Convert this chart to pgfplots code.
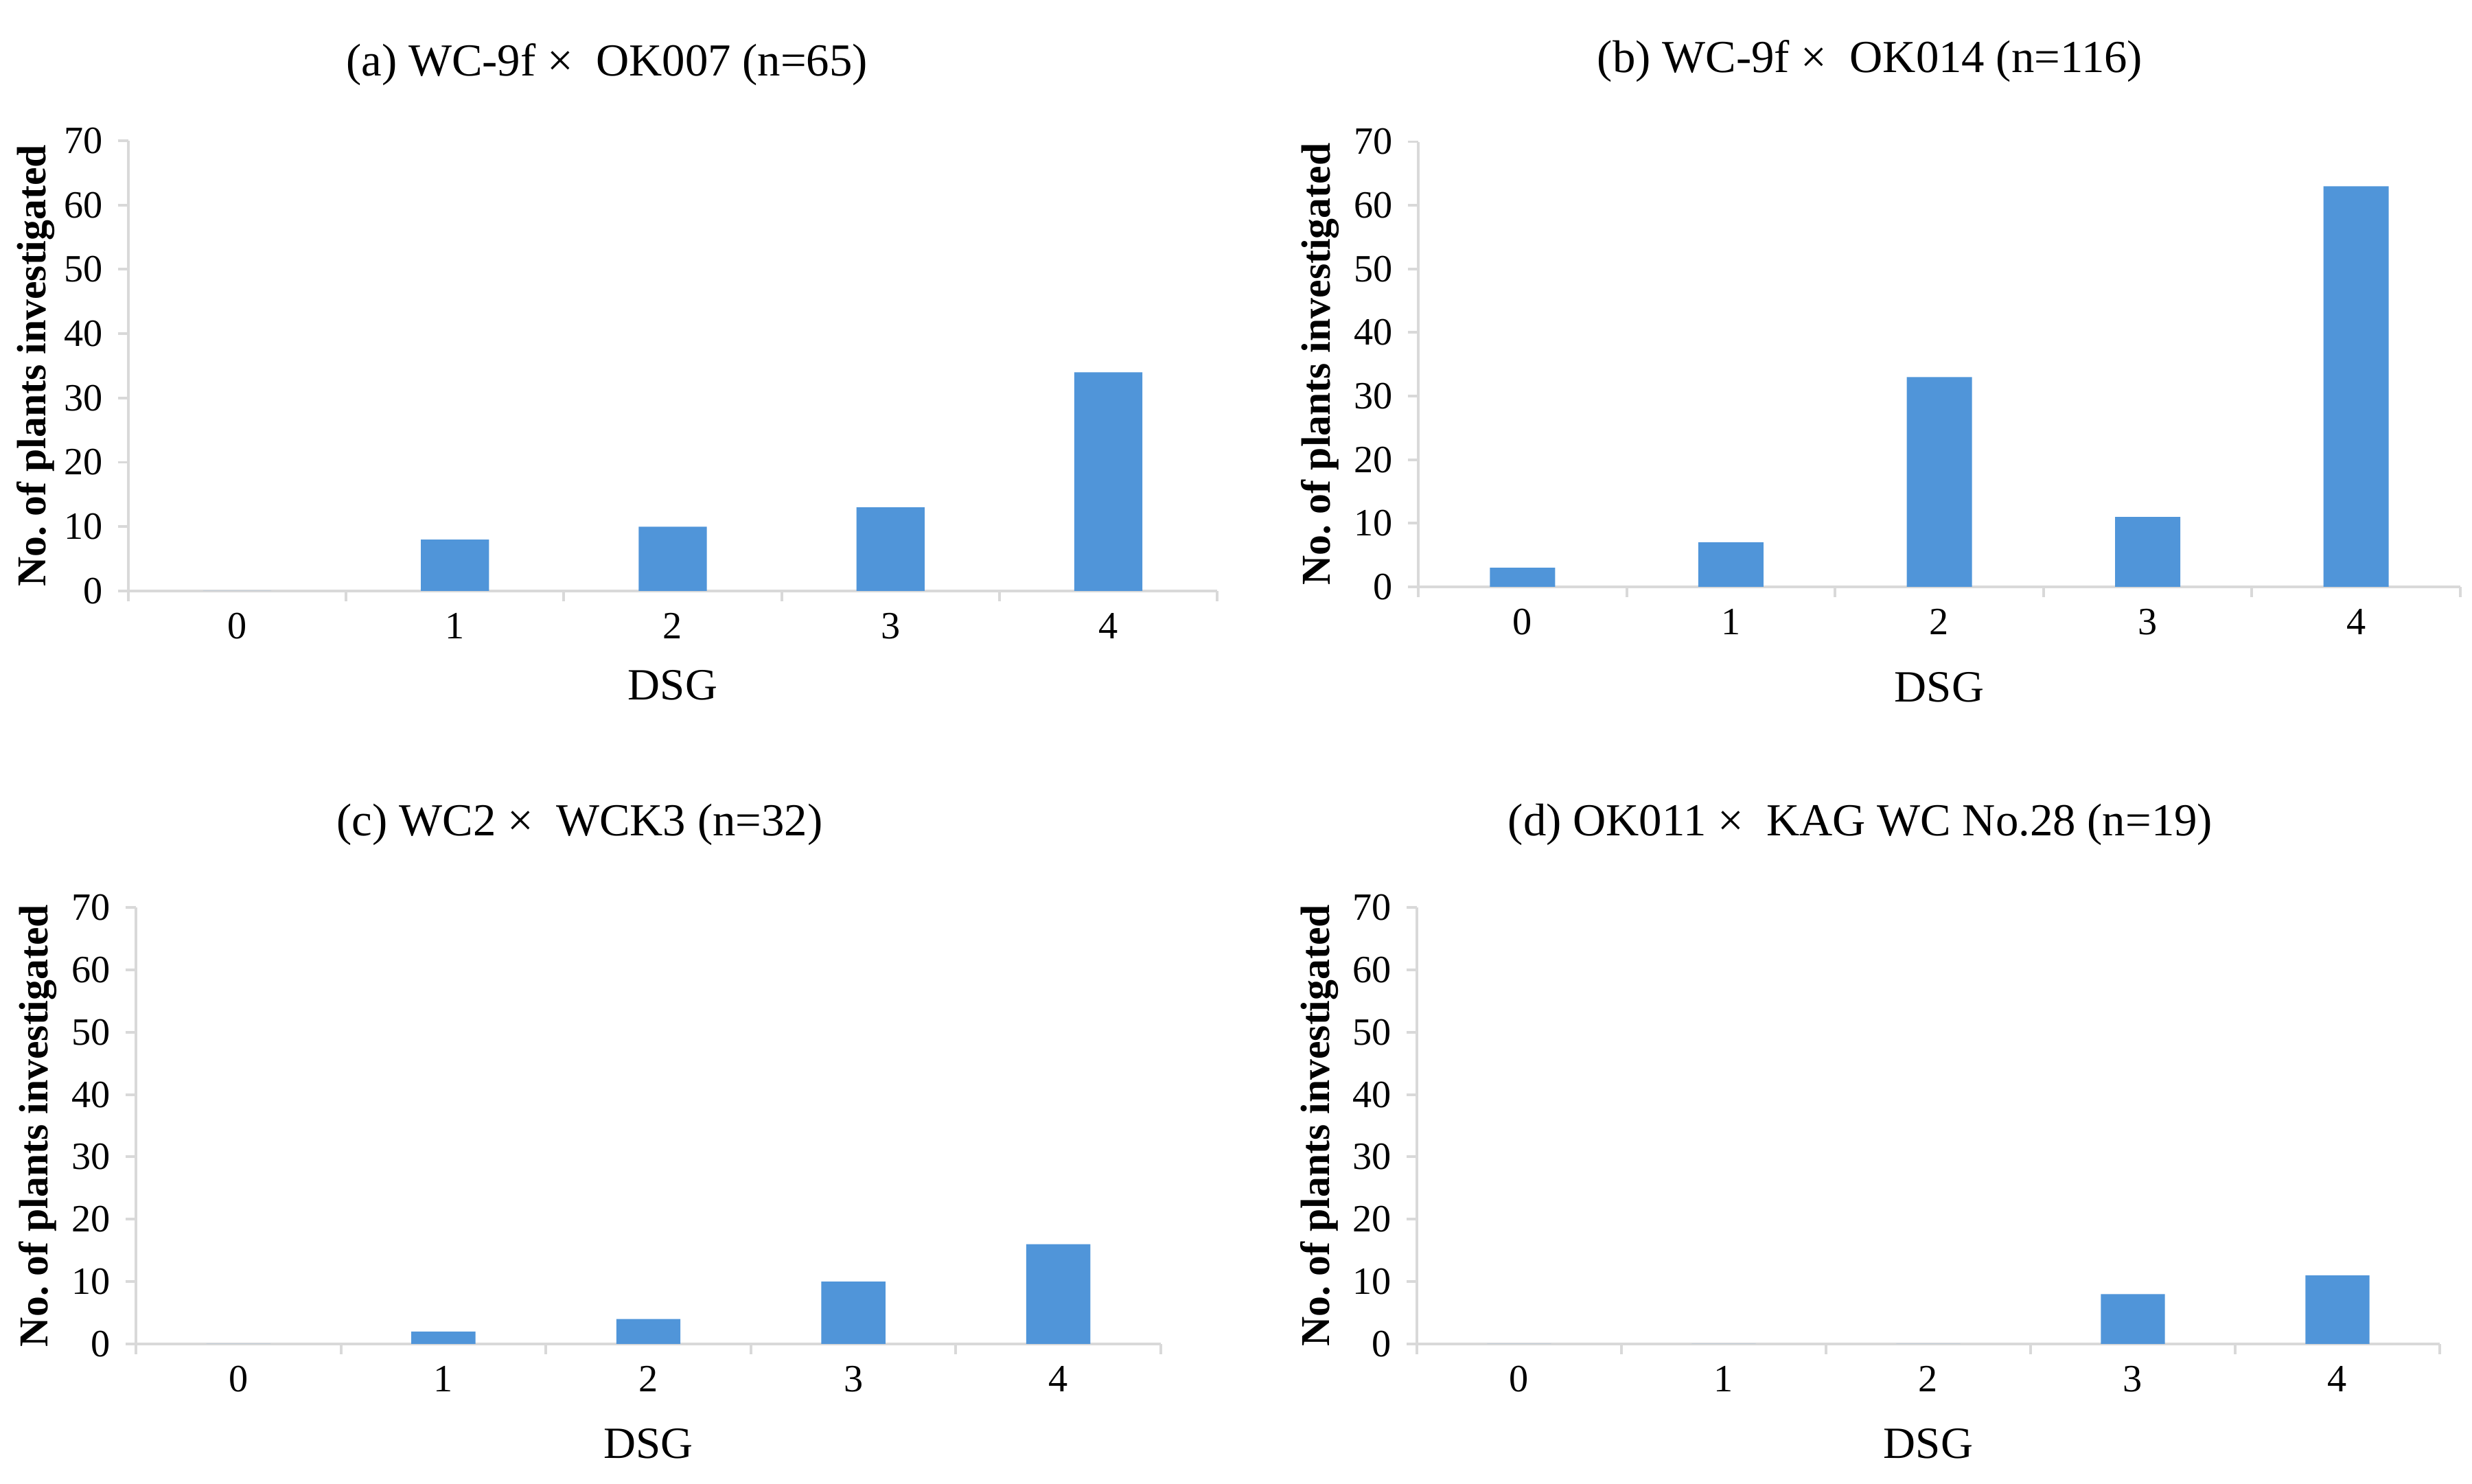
\documentclass[border=0pt]{standalone}
\usepackage{fontspec}
\setmainfont{Liberation Serif}
\usepackage{pgfplots}
\pgfplotsset{compat=1.18}
\definecolor{barblue}{RGB}{80,149,217}
\definecolor{axgray}{RGB}{217,217,217}
\pgfplotsset{
  dsg/.style={
    scale only axis,
    anchor=south west,
    ybar, bar width=0.313, bar shift=0pt,
    xmin=-0.5, xmax=4.5, ymin=0, ymax=70,
    axis lines=left,
    axis line style={-, draw=axgray, line width=1.1pt},
    tick style={draw=axgray, line width=1.1pt},
    tick align=outside,
    major tick length=0.15cm,
    ytick={0,10,...,70},
    xtick={-0.5,0.5,1.5,2.5,3.5,4.5},
    xticklabels={,,,,,},
    extra x ticks={0,1,2,3,4},
    extra x tick labels={0,1,2,3,4},
    extra x tick style={tick style={draw=none}},
    /pgf/number format/assume math mode=true,
    tick label style={font=\fontsize{16}{17}\selectfont},
    yticklabel style={xshift=-0.1cm},
    xticklabel style={yshift=-0.05cm},
    title style={font=\fontsize{19}{21}\selectfont, anchor=center, yshift=-0.23cm},
    xlabel={DSG},
    xlabel style={font=\fontsize{18.5}{20}\selectfont, anchor=center},
    ylabel={No.\ of plants investigated},
    ylabel style={font=\fontsize{17}{19}\selectfont\bfseries, anchor=center},
  }
}
\begin{document}
\begin{tikzpicture}
\useasboundingbox (0,0) rectangle (36.01,21.62);
% (a)
\begin{axis}[dsg, at={(1.87cm,13.01cm)}, width=15.86cm, height=6.56cm,
  title={(a) WC-9f × \ OK007 (n=65)},
  title style={at={(axis description cs:0.4395,1.172)}},
  xlabel style={at={(axis description cs:0.5,-0.209)}},
  ylabel style={at={(axis description cs:-0.085,0.5)}}]
\addplot[fill=barblue, draw=none] coordinates {(0,0) (1,8) (2,10) (3,13) (4,34)};
\end{axis}
% (b)
\begin{axis}[dsg, at={(20.66cm,13.07cm)}, width=15.18cm, height=6.485cm,
  title={(b) WC-9f × \ OK014 (n=116)},
  title style={at={(axis description cs:0.4335,1.184)}},
  xlabel style={at={(axis description cs:0.5,-0.225)}},
  ylabel style={at={(axis description cs:-0.094,0.5)}}]
\addplot[fill=barblue, draw=none] coordinates {(0,3) (1,7) (2,33) (3,11) (4,63)};
\end{axis}
% (c)
\begin{axis}[dsg, at={(1.98cm,2.04cm)}, width=14.93cm, height=6.36cm,
  title={(c) WC2 × \ WCK3 (n=32)},
  title style={at={(axis description cs:0.433,1.193)}},
  xlabel style={at={(axis description cs:0.5,-0.228)}},
  ylabel style={at={(axis description cs:-0.096,0.5)}}]
\addplot[fill=barblue, draw=none] coordinates {(0,0) (1,2) (2,4) (3,10) (4,16)};
\end{axis}
% (d)
\begin{axis}[dsg, at={(20.64cm,2.04cm)}, width=14.90cm, height=6.36cm,
  title={(d) OK011 × \ KAG WC No.28 (n=19)},
  title style={at={(axis description cs:0.4336,1.193)}},
  xlabel style={at={(axis description cs:0.5,-0.228)}},
  ylabel style={at={(axis description cs:-0.095,0.5)}}]
\addplot[fill=barblue, draw=none] coordinates {(0,0) (1,0) (2,0) (3,8) (4,11)};
\end{axis}
\end{tikzpicture}
\end{document}
